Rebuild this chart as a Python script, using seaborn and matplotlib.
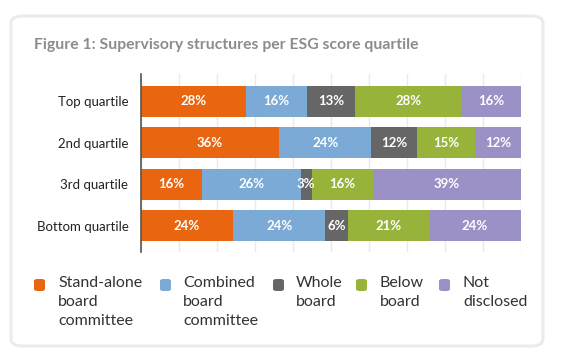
import matplotlib
matplotlib.use("Agg")
import matplotlib.pyplot as plt
from matplotlib.patches import FancyBboxPatch
import seaborn as sns
import pandas as pd
import numpy as np

categories = ["Top quartile", "2nd quartile", "3rd quartile", "Bottom quartile"]
series = ["Stand-alone board committee", "Combined board committee",
          "Whole board", "Below board", "Not disclosed"]
legend_labels = ["Stand-alone\nboard\ncommittee", "Combined\nboard\ncommittee",
                 "Whole\nboard", "Below\nboard", "Not\ndisclosed"]
stand_alone = [28, 36, 16, 24]
combined = [16, 24, 26, 24]
whole_board = [13, 12, 3, 6]
below_board = [28, 15, 16, 21]
not_disclosed = [16, 12, 39, 24]
colors = ["#E9650F", "#7BAAD7", "#666666", "#97B33A", "#9B91C6"]

values = np.array([stand_alone, combined, whole_board, below_board, not_disclosed])
totals = values.sum(axis=0)
shares = values / totals * 100  # rows fill the full width

sns.set_theme(style="white")
plt.rcParams['font.family'] = ['Lato', 'DejaVu Sans']

fig = plt.figure(figsize=(5.63, 3.63), dpi=100)
fig.patch.set_facecolor("white")

# card
card = FancyBboxPatch((11 / 563, 1 - 346 / 363), (543 - 11) / 563, (346 - 16) / 363,
                      boxstyle="round,pad=0,rounding_size=0.02",
                      transform=fig.transFigure, facecolor="white",
                      edgecolor="#EBEBEB", linewidth=2.2, zorder=-5)
fig.patches.append(card)

ax = fig.add_axes([141 / 563, 1 - 252 / 363, (521 - 141) / 563, (252 - 74) / 363])
ax.set_facecolor("none")
ax.set_zorder(2)

left = np.zeros(len(categories))
for i, name in enumerate(series):
    df = pd.DataFrame({"cat": categories, "val": shares[i]})
    sns.barplot(data=df, y="cat", x="val", left=left, color=colors[i], ax=ax,
                orient="h", width=0.75, linewidth=0, saturation=1, zorder=3)
    for j, cat in enumerate(categories):
        ax.text(left[j] + shares[i][j] / 2, j, f"{values[i][j]}%", ha="center",
                va="center", color="white", fontsize=9.5, fontweight="bold", zorder=4)
    left = left + shares[i]

ax.set_xlim(0, 100)
ax.set_ylim(3.63, -0.66)
ax.set_xticks(np.arange(0, 101, 10))
ax.set_xticklabels([])
ax.tick_params(axis="x", length=0)
ax.tick_params(axis="y", length=0, pad=9, labelsize=9.5, labelcolor="#222222")
ax.grid(axis="x", color="#EAEAEA", linewidth=1, zorder=0)
ax.set_axisbelow(True)
ax.set_xlabel("")
ax.set_ylabel("")
for s in ["top", "right", "bottom"]:
    ax.spines[s].set_visible(False)
ax.spines["left"].set_color("#555555")
ax.spines["left"].set_linewidth(1.2)
ax.spines["left"].set_zorder(5)

fig.text(34 / 563, 1 - 45 / 363, "Figure 1: Supervisory structures per ESG score quartile",
         ha="left", va="center", fontsize=11.3, fontweight="bold", color="#8C8C8C")

# legend
mx = [34, 160, 273, 356, 439]
tx = [58, 183, 296, 380, 463]
for i, lab in enumerate(legend_labels):
    fig.patches.append(FancyBboxPatch((mx[i] / 563, 1 - 291 / 363), 11 / 563, 12 / 363,
                                      boxstyle="round,pad=0,rounding_size=0.006",
                                      transform=fig.transFigure, facecolor=colors[i],
                                      edgecolor="none"))
    fig.text(tx[i] / 563, 1 - 276 / 363, lab, ha="left", va="top", fontsize=11.5,
             color="#333333", linespacing=1.45)

fig.savefig("out.png", dpi=100)
